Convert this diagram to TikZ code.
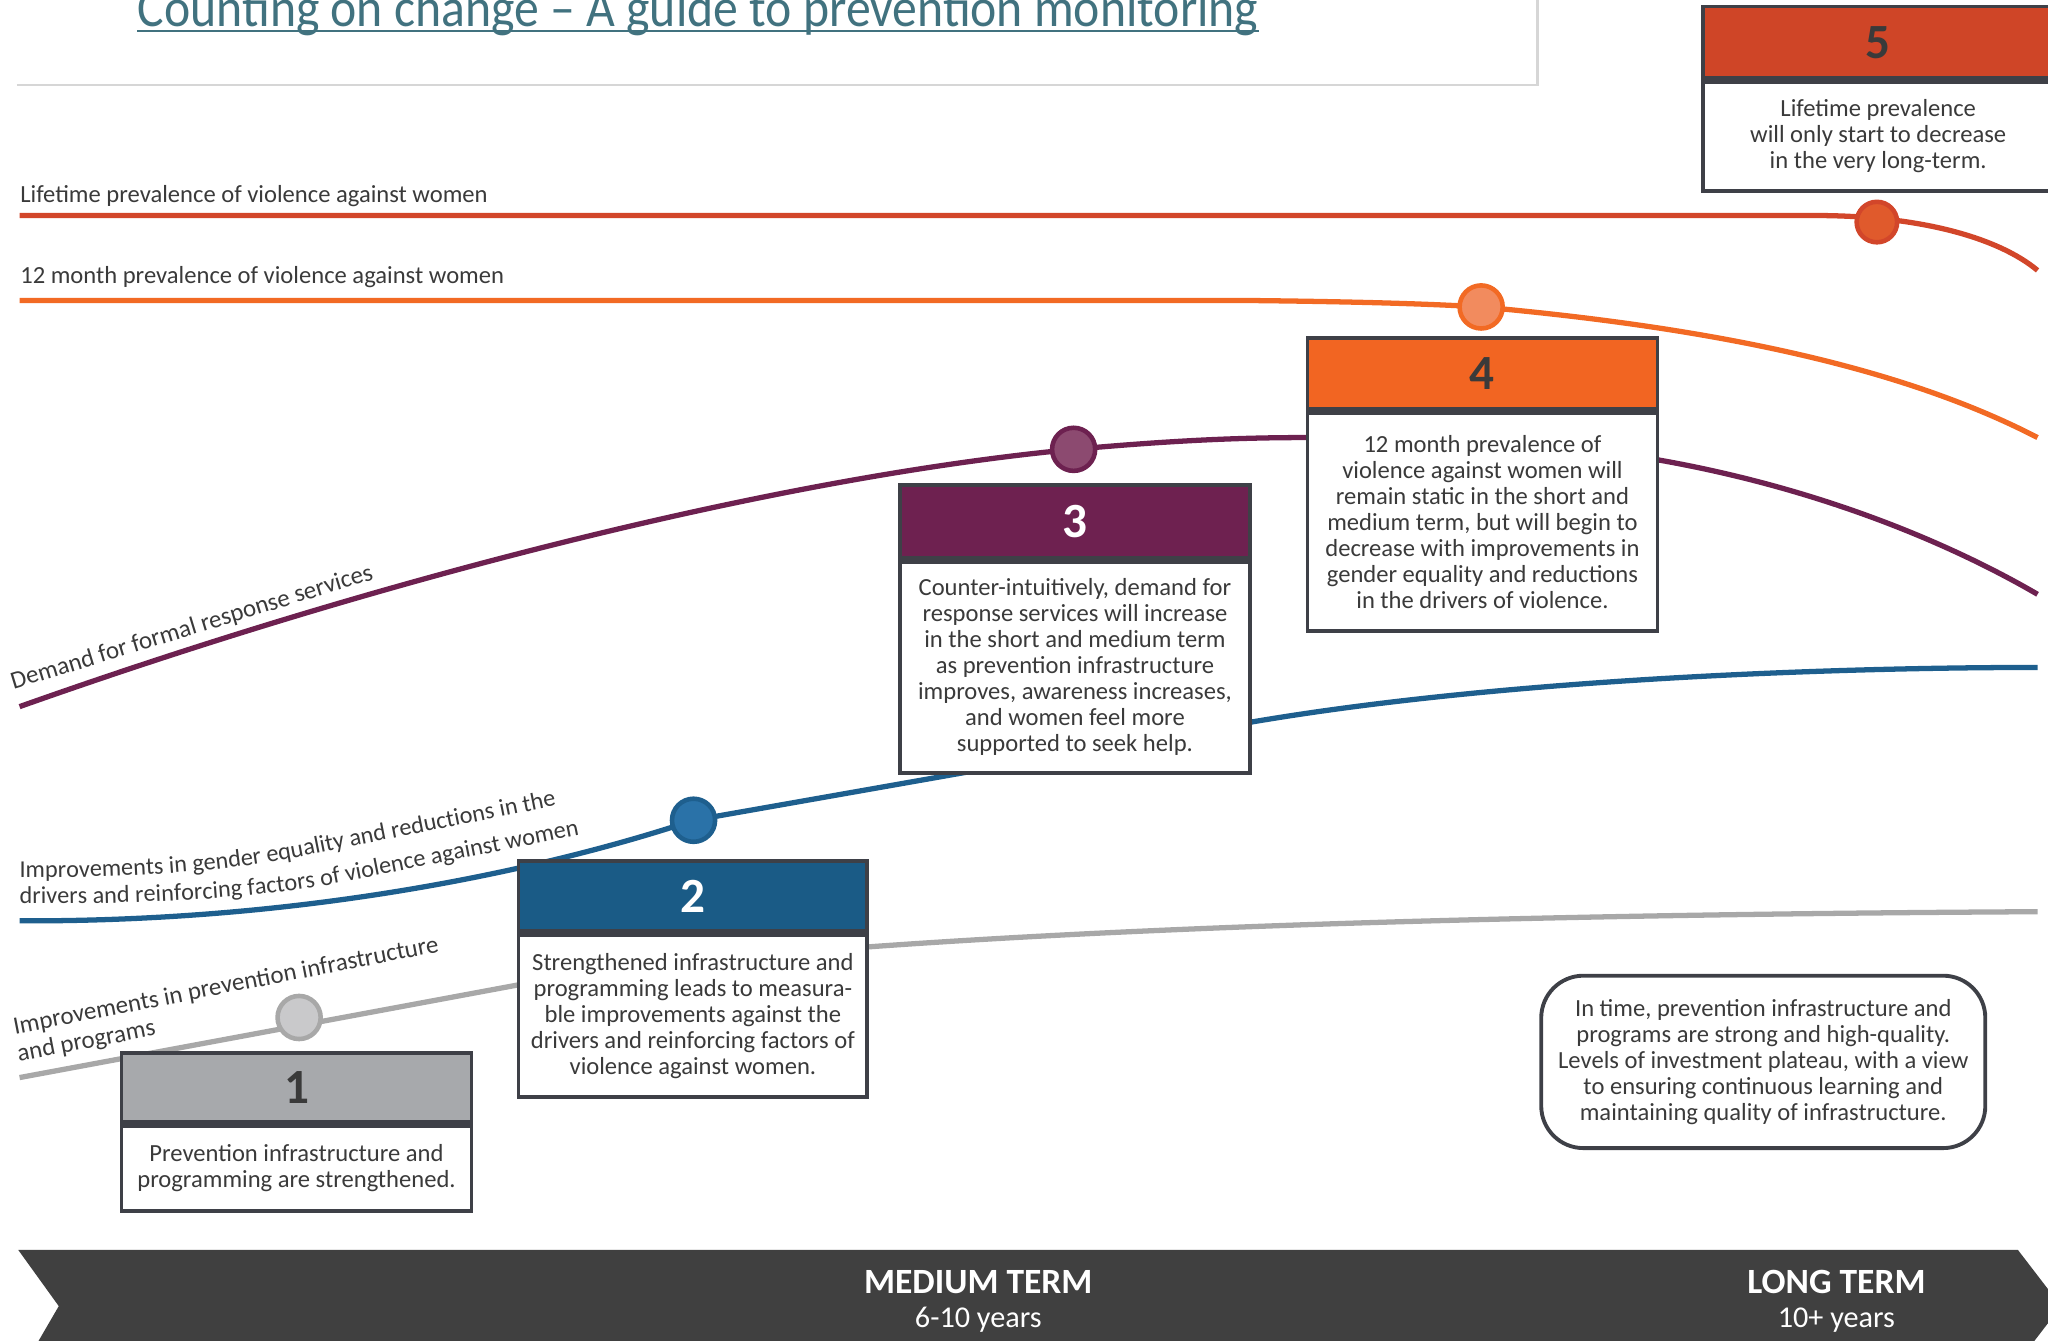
\documentclass[tikz,border=0pt]{standalone}
\usepackage{fontspec}
\setmainfont{Carlito}
\usetikzlibrary{decorations.text}
\newlength{\dpx}\setlength{\dpx}{0.0130612cm}
\definecolor{redl}{HTML}{D2462A}
\definecolor{orangel}{HTML}{F26A24}
\definecolor{purplel}{HTML}{6D2150}
\definecolor{bluel}{HTML}{1E5F8E}
\definecolor{grayl}{HTML}{A8A8A8}
\definecolor{boxc}{HTML}{3E4047}
\definecolor{hdrfive}{HTML}{CF4527}
\definecolor{hdrfour}{HTML}{F26522}
\definecolor{hdrthree}{HTML}{6E2150}
\definecolor{hdrtwo}{HTML}{1A5B86}
\definecolor{hdrone}{HTML}{A7A9AC}
\definecolor{dotfive}{HTML}{E05A2C}
\definecolor{dotfour}{HTML}{F28B5E}
\definecolor{dotthree}{HTML}{8C4A70}
\definecolor{dottwo}{HTML}{2A72A8}
\definecolor{dotone}{HTML}{C9C9CB}
\definecolor{txt}{HTML}{3A3A3A}
\definecolor{barc}{HTML}{404040}
\definecolor{titlec}{HTML}{41727F}
\definecolor{lightg}{HTML}{D6D6D6}
\begin{document}
\begin{tikzpicture}[x=0.0130612cm,y=-0.0130612cm,
  crv/.style={line width=1.5pt},
  hdr/.style={draw=boxc, line width=1.1pt, inner sep=0, font=\fontsize{14}{16}\selectfont\bfseries},
  bodyb/.style={draw=boxc, fill=white, line width=1.1pt, inner sep=0, align=center, text=txt, font=\fontsize{7}{7.4}\selectfont},
  dotn/.style={circle, line width=1.3pt, minimum size=33\dpx, inner sep=0},
  lbl/.style={inner sep=0, text=txt, font=\fontsize{7}{7.4}\selectfont},
  rlbl/.style={inner sep=0, text=txt, font=\fontsize{7.1}{7.5}\selectfont},
  bartxt/.style={inner sep=0, text=white, align=center}]
\useasboundingbox (0,0) rectangle (1568,1026);

% title
\node[anchor=base west, inner sep=0, text=titlec, font=\fontsize{15.5}{18}\selectfont] (title) at (105,20) {\scalebox{0.913}[1]{Counting on change – A guide to prevention monitoring}};
\draw[titlec, line width=0.6pt] ([yshift=-1.4pt]title.base west) -- ([yshift=-1.4pt]title.base east);
\draw[lightg, line width=0.8pt] (13,65) -- (1177,65) -- (1177,-5);

% line labels
\node[lbl, anchor=base west] (lifel) at (15,155) {Lifetime prevalence of violence against women};
\node[lbl, anchor=base west] (monthl) at (15,217) {12 month prevalence of violence against women};
\node[rlbl, anchor=base west, rotate=17] (demandl) at (10,528) {Demand for formal response services};
\node[rlbl, anchor=base west, rotate=11] (infral) at (11,792) {Improvements in prevention infrastructure};
\node[rlbl, anchor=base west, rotate=11] (infral2) at (14,813) {and programs};
\path[decorate, decoration={text along path, text color=txt, text align={left},
  text={|\fontsize{6.9}{7.4}\selectfont|Improvements in gender equality and reductions in the}}]
  (15,672) .. controls (120,672) and (180,666) .. (240,654) -- (520,598);
\path[decorate, decoration={text along path, text color=txt, text align={left},
  text={|\fontsize{6.9}{7.4}\selectfont|drivers and reinforcing factors of violence against women}}]
  (15,692) .. controls (140,692) and (210,686) .. (270,674) -- (540,620);

% curves
\draw[crv, redl] (15,165) -- (1390,165) .. controls (1470,165) and (1530,182) .. (1560,207);
\draw[crv, orangel] (15,230) -- (950,230) .. controls (1050,231) and (1100,233) .. (1134,235)
  .. controls (1300,250) and (1450,278) .. (1560,335);
\draw[crv, purplel] (15,541) .. controls (300,440) and (600,365) .. (822,344)
  .. controls (900,337) and (950,335) .. (1000,335) .. controls (1100,335) and (1200,340) .. (1269,352)
  .. controls (1400,375) and (1500,420) .. (1560,455);
\draw[crv, bluel] (15,705) .. controls (250,706) and (435,660) .. (531,628) -- (957,553)
  .. controls (1150,520) and (1400,511) .. (1560,511);
\draw[crv, grayl] (15,825) -- (397,754) -- (664,725) .. controls (900,708) and (1200,700) .. (1560,698);

% dots
\node[dotn, draw=redl, fill=dotfive, minimum size=31\dpx] (d5) at (1437,170) {};
\node[dotn, draw=orangel, fill=dotfour] (d4) at (1134,235) {};
\node[dotn, draw=purplel, fill=dotthree] (d3) at (822,344) {};
\node[dotn, draw=bluel, fill=dottwo] (d2) at (531,628) {};
\node[dotn, draw=grayl, fill=dotone] (d1) at (229,779) {};

% box 5
\node[hdr, fill=hdrfive, text=txt, minimum width=268\dpx, minimum height=55\dpx] (h5) at (1438,32.5) {5};
\node[bodyb, anchor=north, minimum width=268\dpx, minimum height=83\dpx] (b5) at (h5.south) {Lifetime prevalence\\will only start to decrease\\in the very long-term.};
% box 4
\node[hdr, fill=hdrfour, text=txt, minimum width=268\dpx, minimum height=54\dpx] (h4) at (1135,286) {4};
\node[bodyb, anchor=north, minimum width=268\dpx, minimum height=167\dpx] (b4) at (h4.south) {12 month prevalence of\\violence against women will\\remain static in the short and\\medium term, but will begin to\\decrease with improvements in\\gender equality and reductions\\in the drivers of violence.};
% box 3
\node[hdr, fill=hdrthree, text=white, minimum width=268\dpx, minimum height=56\dpx] (h3) at (823,399) {3};
\node[bodyb, anchor=north, minimum width=268\dpx, minimum height=162\dpx] (b3) at (h3.south) {Counter-intuitively, demand for\\response services will increase\\in the short and medium term\\as prevention infrastructure\\improves, awareness increases,\\and women feel more\\supported to seek help.};
% box 2
\node[hdr, fill=hdrtwo, text=white, minimum width=267\dpx, minimum height=54\dpx] (h2) at (530.5,686) {2};
\node[bodyb, anchor=north, minimum width=267\dpx, minimum height=124\dpx] (b2) at (h2.south) {Strengthened infrastructure and\\programming leads to measura-\\ble improvements against the\\drivers and reinforcing factors of\\violence against women.};
% box 1
\node[hdr, fill=hdrone, text=txt, minimum width=268\dpx, minimum height=53\dpx] (h1) at (227,832.5) {1};
\node[bodyb, anchor=north, minimum width=268\dpx, minimum height=65\dpx] (b1) at (h1.south) {Prevention infrastructure and\\programming are strengthened.};

% rounded note
\node[draw=boxc, line width=1.1pt, rounded corners=12pt, minimum width=340\dpx, minimum height=132\dpx, inner sep=0, align=center, text=txt, font=\fontsize{7}{7.4}\selectfont] (note) at (1350,813) {In time, prevention infrastructure and\\programs are strong and high-quality.\\Levels of investment plateau, with a view\\to ensuring continuous learning and\\maintaining quality of infrastructure.};

% bottom bar
\fill[barc] (14,957) -- (1545,957) -- (1578,1000) -- (1545,1043) -- (20,1043) -- (45,1000) -- cycle;
\node[bartxt, font=\fontsize{10.1}{12}\selectfont\bfseries, anchor=base] (mt) at (749,990) {MEDIUM TERM};
\node[bartxt, font=\fontsize{8.6}{10}\selectfont, anchor=base] (mty) at (749,1016) {6-10 years};
\node[bartxt, font=\fontsize{10.1}{12}\selectfont\bfseries, anchor=base] (lt) at (1406,990) {LONG TERM};
\node[bartxt, font=\fontsize{8.6}{10}\selectfont, anchor=base] (lty) at (1406,1016) {10+ years};
\end{tikzpicture}
\end{document}
